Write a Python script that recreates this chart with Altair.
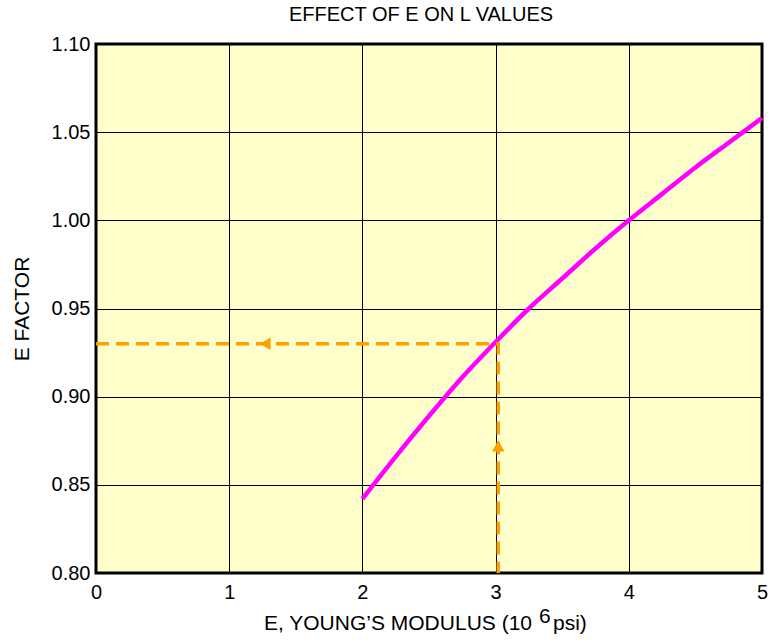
import altair as alt
import pandas as pd

# E factor curve: Young's modulus (10^6 psi) vs. E factor
modulus = [2.0, 2.25, 2.5, 2.75, 3.0, 3.25, 3.5, 3.75, 4.0, 4.25, 4.5, 4.75, 5.0]
e_factor = [0.842, 0.866, 0.889, 0.911, 0.931, 0.950, 0.967, 0.984, 1.000, 1.015, 1.030, 1.044, 1.058]

# worked example: read E = 3.02 up to the curve, then across to the axis
example_x = [0.0, 3.02, 3.02]
example_y = [0.93, 0.93, 0.80]
example_order = [0, 1, 2]

# arrow heads on the example path
arrow_x = [1.27, 3.02]
arrow_y = [0.93, 0.872]
arrow_shape = ["triangle-left", "triangle-up"]

x_ticks = [0, 1, 2, 3, 4, 5]
y_ticks = [0.80, 0.85, 0.90, 0.95, 1.00, 1.05, 1.10]

FONT = "Liberation Sans"
ORANGE = "#FFA000"
W, H = 666, 529

curve_df = pd.DataFrame({"E": modulus, "F": e_factor})
example_df = pd.DataFrame({"E": example_x, "F": example_y, "o": example_order})
arrow_df = pd.DataFrame({"E": arrow_x, "F": arrow_y, "shape": arrow_shape})

x_scale = alt.Scale(domain=[0, 5], nice=False, zero=False)
y_scale = alt.Scale(domain=[0.80, 1.10], nice=False, zero=False)

x_axis = alt.Axis(values=x_ticks, format="d", title=None, grid=True, gridColor="black",
                  gridWidth=1, gridOpacity=1, domain=False, ticks=False,
                  labelFont=FONT, labelFontSize=20, labelColor="black", labelPadding=9,
                  labelFlush=False)
y_axis = alt.Axis(values=y_ticks, format=".2f", title="E FACTOR", grid=True, gridColor="black",
                  gridWidth=1, gridOpacity=1, domain=False, ticks=False,
                  labelFont=FONT, labelFontSize=20, labelColor="black", labelPadding=6,
                  labelFlush=False, titleFont=FONT, titleFontSize=21, titleFontWeight="normal",
                  titleColor="black", titlePadding=19)

curve = alt.Chart(curve_df).mark_line(
    color="#FF00FF", strokeWidth=4.5, interpolate="monotone"
).encode(
    x=alt.X("E:Q", scale=x_scale, axis=x_axis),
    y=alt.Y("F:Q", scale=y_scale, axis=y_axis),
)

example = alt.Chart(example_df).mark_line(
    color=ORANGE, strokeWidth=3.5, strokeDash=[13, 7]
).encode(
    x=alt.X("E:Q", scale=x_scale),
    y=alt.Y("F:Q", scale=y_scale),
    order="o:Q",
)

arrows = alt.Chart(arrow_df).mark_point(filled=True, color=ORANGE, opacity=1, size=160).encode(
    x=alt.X("E:Q", scale=x_scale),
    y=alt.Y("F:Q", scale=y_scale),
    shape=alt.Shape("shape:N", scale=None, legend=None),
)

# x-axis title with raised exponent
label_df = pd.DataFrame({"t": ["E, YOUNG\u2019S MODULUS (10", "6", "psi)"],
                         "k": ["a", "b", "c"]})
title_main = alt.Chart(label_df[label_df.k == "a"]).mark_text(
    font=FONT, fontSize=21, align="right", baseline="alphabetic", color="black"
).encode(x=alt.value(436), y=alt.value(586), text="t:N")
title_exp = alt.Chart(label_df[label_df.k == "b"]).mark_text(
    font=FONT, fontSize=21, align="left", baseline="alphabetic", color="black"
).encode(x=alt.value(443), y=alt.value(579), text="t:N")
title_unit = alt.Chart(label_df[label_df.k == "c"]).mark_text(
    font=FONT, fontSize=21, align="left", baseline="alphabetic", color="black"
).encode(x=alt.value(457), y=alt.value(586), text="t:N")

# chart heading as a text mark centred over the plot area
head_df = pd.DataFrame({"t": ["EFFECT OF E ON L VALUES"]})
heading = alt.Chart(head_df).mark_text(
    font=FONT, fontSize=20, align="center", baseline="alphabetic", color="black"
).encode(x=alt.value(325), y=alt.value(-23), text="t:N")

chart = alt.layer(curve, example, arrows, title_main, title_exp, title_unit, heading).properties(
    width=W, height=H,
    background="white",
    autosize=alt.AutoSizeParams(type="none"),
    padding={"left": 96, "top": 44, "right": 9, "bottom": 67},
).configure_view(
    fill="#FFFFCC", stroke="black", strokeWidth=3
)

chart.save("out.html", embed_options={"renderer": "svg", "actions": False})
